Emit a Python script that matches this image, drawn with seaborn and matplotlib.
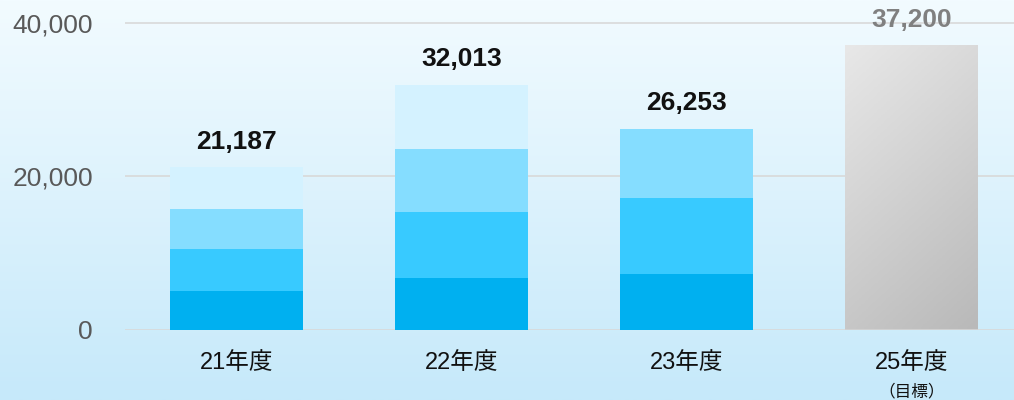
import numpy as np
import pandas as pd
import seaborn as sns
import matplotlib.pyplot as plt
from matplotlib.ticker import FuncFormatter
from matplotlib.colors import LinearSegmentedColormap

# data
years = ['21年度', '22年度', '23年度', '25年度']
seg1 = [5060, 6755, 7240, np.nan]
seg2 = [5440, 8605, 9950, np.nan]
seg3 = [5300, 8220, 9063, np.nan]
seg4 = [5387, 8433, 0, np.nan]
totals = [21187, 32013, 26253]
target_year = '25年度'
target = 37200

seg_colors = ['#00B0F0', '#38CAFF', '#85DDFF', '#D4F2FF']

sns.set_theme(style='white')
plt.rcParams['font.family'] = ['Liberation Sans', 'Noto Sans CJK JP', 'DejaVu Sans']

fig = plt.figure(figsize=(10.14, 4.0), dpi=100)

# background gradient
bg = fig.add_axes([0, 0, 1, 1])
grad = np.linspace(0, 1, 256).reshape(-1, 1)
bg_cmap = LinearSegmentedColormap.from_list('bg', ['#F2FBFF', '#C6E9FA'])
bg.imshow(grad, aspect='auto', cmap=bg_cmap, extent=[0, 1, 0, 1])
bg.set_axis_off()

ax = fig.add_axes([125 / 1014, 0.17625, 889 / 1014, 0.82375])
ax.patch.set_alpha(0)

df = pd.DataFrame({'year': years, 's1': seg1, 's2': seg2, 's3': seg3, 's4': seg4})
layers = ['s1', 's2', 's3', 's4']
cum = df[layers].fillna(0).cumsum(axis=1)

# draw cumulative layers from top down so each lower layer overlays
for i in range(len(layers) - 1, -1, -1):
    vals = cum[layers[i]].where(df[layers[i]].notna() & (df[layers[i]] > 0))
    d = pd.DataFrame({'year': years, 'v': vals})
    sns.barplot(data=d, x='year', y='v', order=years, color=seg_colors[i],
                width=0.59, saturation=1, ax=ax, zorder=3, linewidth=0)

# target bar with grey gradient
tdf = pd.DataFrame({'year': [target_year], 'v': [target]})
sns.barplot(data=tdf, x='year', y='v', order=years, color='#D0D0D0',
            width=0.59, saturation=1, ax=ax, zorder=3, linewidth=0)
tbar = ax.patches[-1]
x0, w = tbar.get_x(), tbar.get_width()
gx, gy = np.meshgrid(np.linspace(0, 1, 100), np.linspace(0, 1, 100))
g = gx * 0.3 + gy * 0.7
grey_cmap = LinearSegmentedColormap.from_list('grey', ['#E8E8E8', '#B9B9B9'])
im = ax.imshow(g, cmap=grey_cmap, aspect='auto', extent=[x0, x0 + w, 0, target],
               origin='upper', zorder=4)
im.set_clip_path(tbar)

ax.set_xlim(-0.496, 3.457)
ax.set_ylim(0, 43070)
ax.set_yticks([0, 20000, 40000])
ax.yaxis.set_major_formatter(FuncFormatter(lambda v, p: f'{int(v):,}'))
ax.grid(axis='y', color='#D9D9D9', linewidth=1.2, zorder=0)
ax.set_axisbelow(True)
for s in ax.spines.values():
    s.set_visible(False)
ax.tick_params(axis='y', length=0, pad=23, labelsize=19, labelcolor='#595959')
ax.tick_params(axis='x', length=0, pad=16, labelsize=17, labelcolor='#111111')
ax.set_xlabel('')
ax.set_ylabel('')

for i, t in enumerate(totals):
    ax.text(i, t + 1750, f'{t:,}', ha='center', va='bottom', fontsize=19,
            fontweight='bold', color='#111111', zorder=5)
ax.text(3, target + 1750, f'{target:,}', ha='center', va='bottom', fontsize=19,
        fontweight='bold', color='#808080', zorder=5)
ax.text(3.0, -7000, '（目標）', ha='center', va='top', fontsize=12,
        family='Noto Sans CJK JP', color='#111111', clip_on=False)

fig.savefig('out.png', dpi=100)
